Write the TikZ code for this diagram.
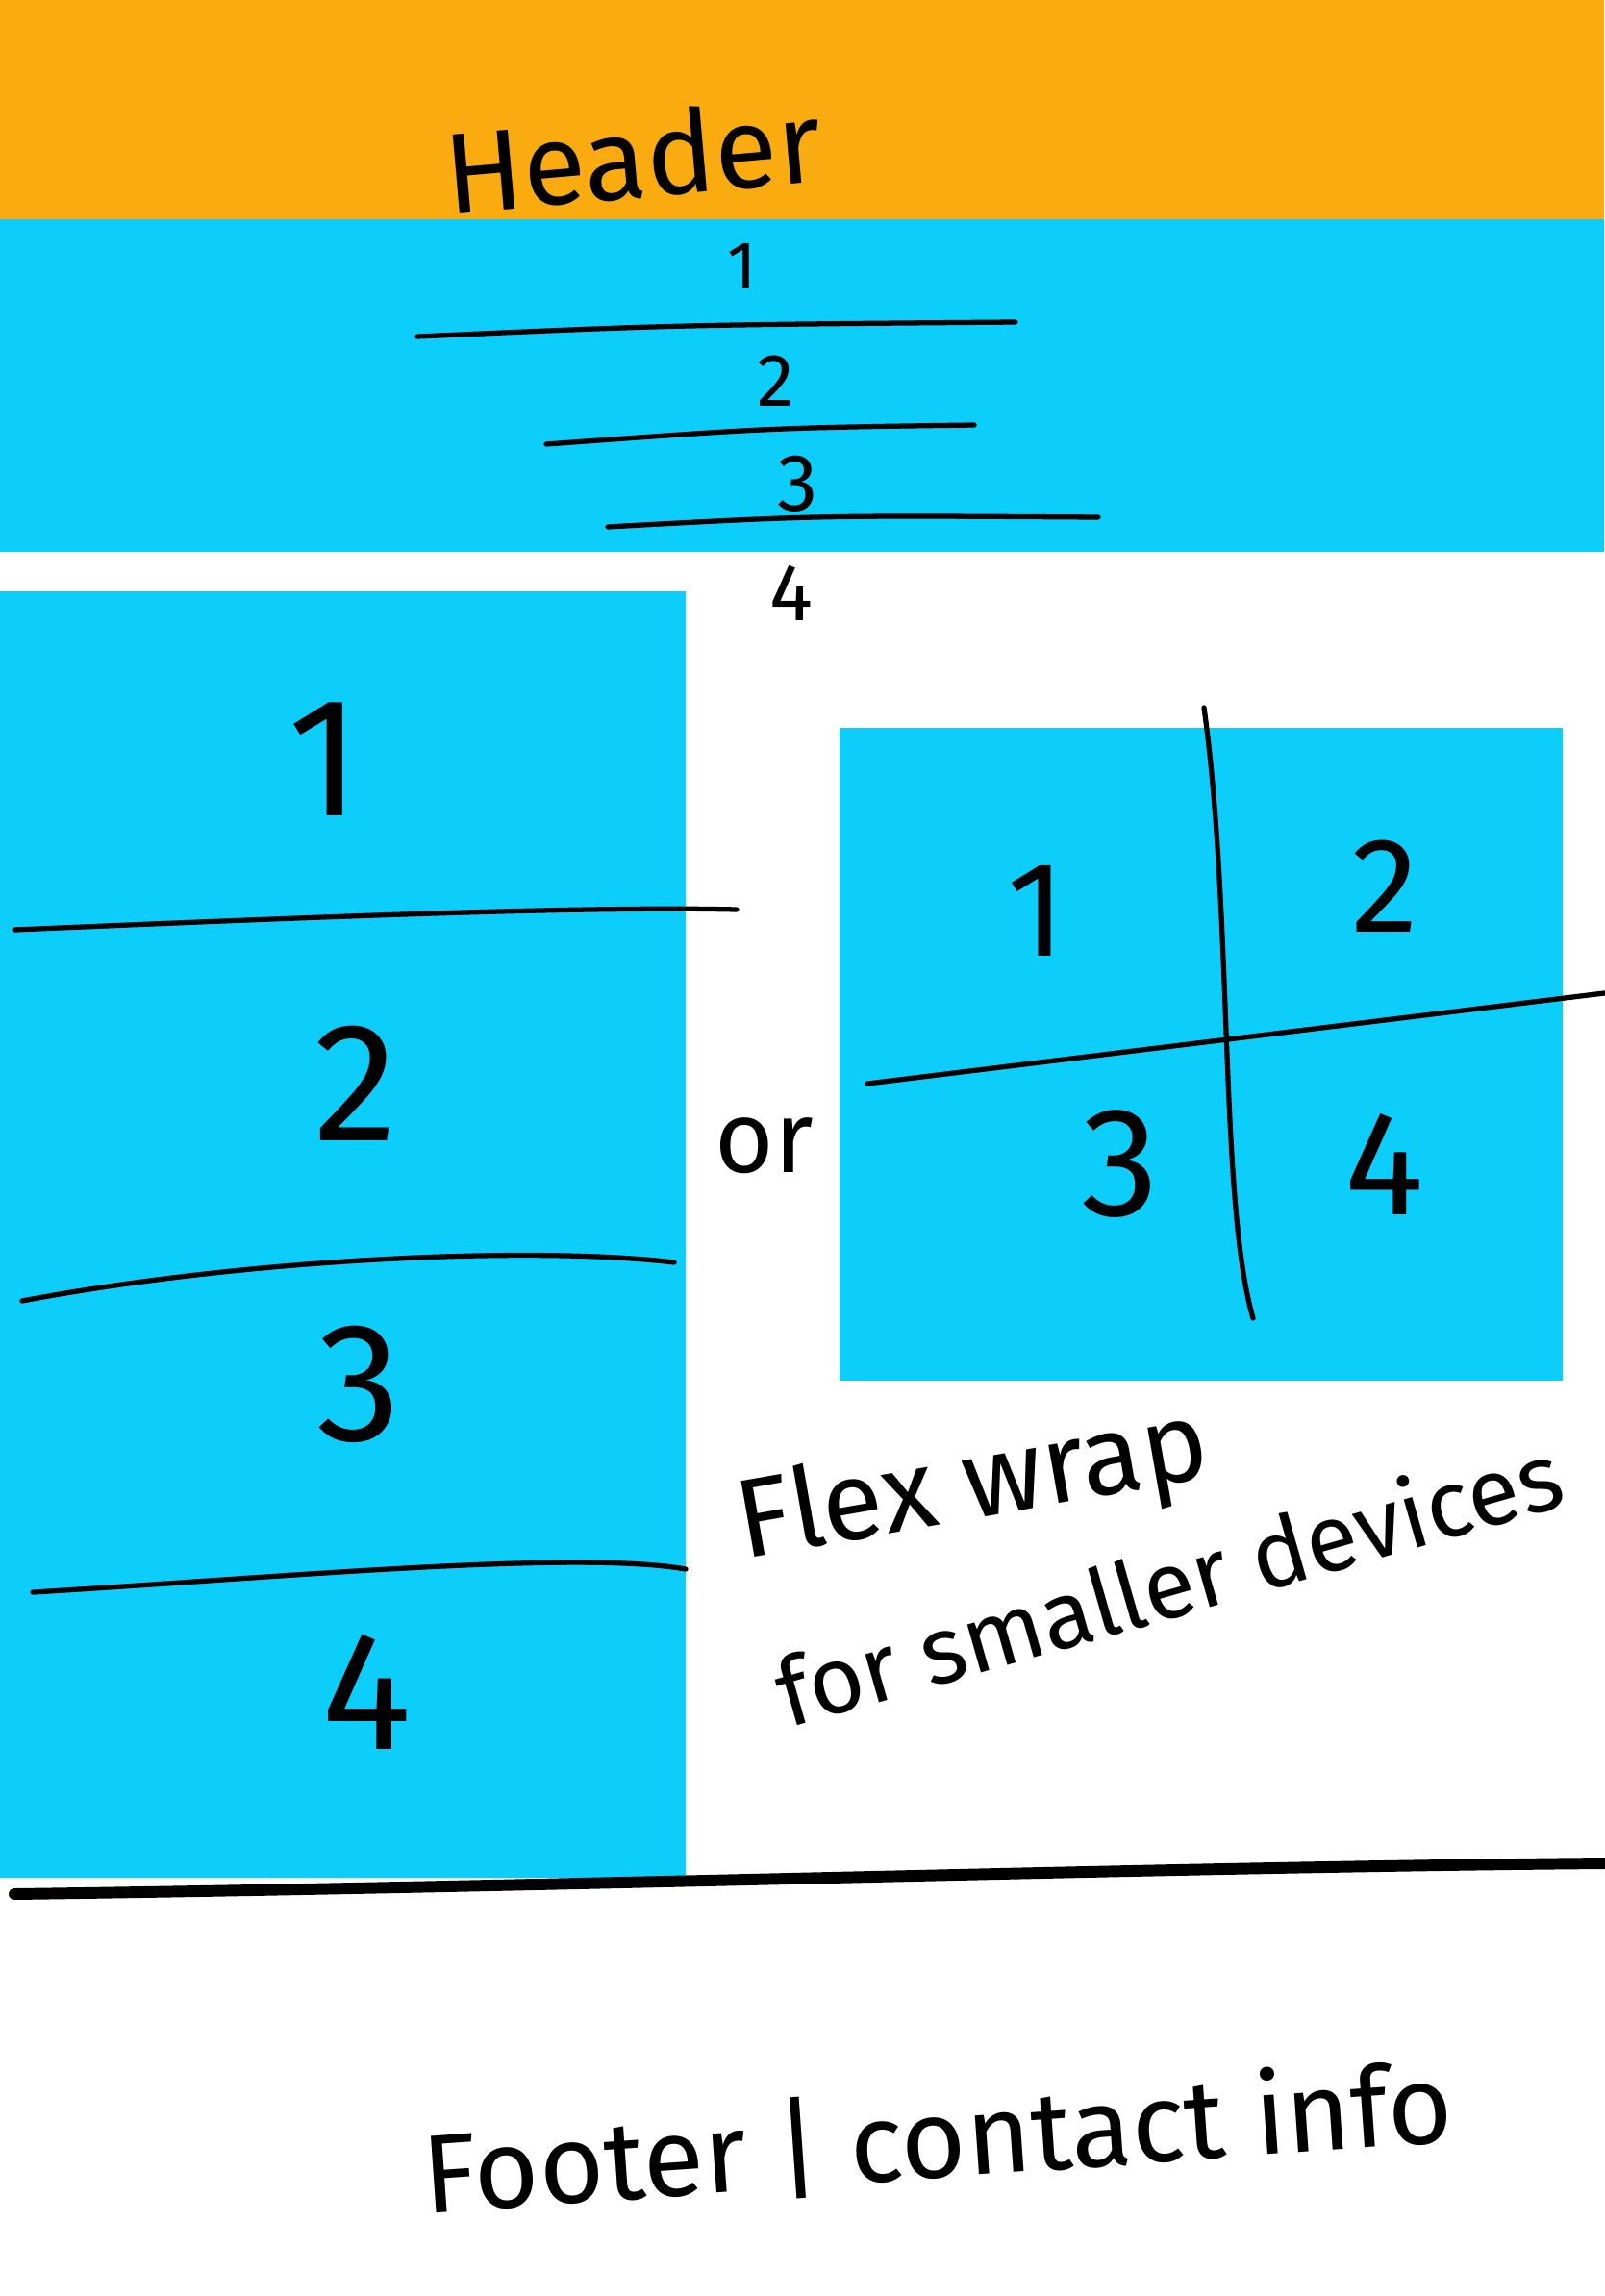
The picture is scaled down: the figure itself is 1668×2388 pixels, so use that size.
\documentclass[tikz,border=0pt]{standalone}
\usepackage{fontspec}
\setmainfont{Fira Sans}
\usepackage{xcolor}
\usepackage{tikz}
\usetikzlibrary{positioning}

\definecolor{headorange}{HTML}{F9AB10}
\definecolor{boxblue}{HTML}{0DCEFA}

\tikzset{
    pen/.style = {line width = 1.5pt, line cap = round},
    bigpen/.style = {line width = 3.4pt, line cap = round},
    hand/.style = {inner sep = 0pt, text = black}
}

\begin{document}
\begin{tikzpicture}[x = 0.01cm, y = -0.01cm]
        \useasboundingbox (0, 0) rectangle (1668, 2388);
        \fill [white] (0, 0) rectangle (1668, 2388);

        % header and nav band
        \fill [headorange] (0, 0) rectangle (1668, 228);
        \fill [boxblue] (0, 228) rectangle (1668, 574);
        \node [hand, rotate = 5, font = \fontsize{34}{36}\selectfont] (header) at (658, 162) {Header};

        \draw [pen] (434, 350) .. controls (700, 338) .. (1056, 335);
        \draw [pen] (568, 462) .. controls (800, 445) .. (1013, 442);
        \draw [pen] (632, 548) .. controls (850, 536) .. (1142, 538);
        \node [hand, font = \fontsize{20}{22}\selectfont] (nav1) at (772, 277) {1};
        \node [hand, font = \fontsize{22}{24}\selectfont] (nav2) at (807, 396) {2};
        \node [hand, font = \fontsize{24}{26}\selectfont] (nav3) at (830, 503) {3};
        \node [hand, font = \fontsize{24}{26}\selectfont] (nav4) at (823, 617) {4};

        % stacked boxes
        \fill [boxblue] (0, 615) rectangle (713, 1953);
        \draw [pen] (15, 967) .. controls (300, 955) and (600, 942) .. (766, 946);
        \draw [pen] (23, 1353) .. controls (250, 1310) and (550, 1295) .. (701, 1313);
        \draw [pen] (34, 1656) .. controls (300, 1640) and (600, 1612) .. (713, 1632);
        \node [hand, font = \fontsize{50}{52}\selectfont] (left1) at (338, 790) {1};
        \node [hand, font = \fontsize{50}{52}\selectfont] (left2) at (370, 1127) {2};
        \node [hand, font = \fontsize{50}{52}\selectfont] (left3) at (373, 1440) {3};
        \node [hand, font = \fontsize{50}{52}\selectfont] (left4) at (381, 1760) {4};

        \node [hand, font = \fontsize{30}{32}\selectfont] (or) at (795, 1192) {or};

        % grid
        \fill [boxblue] (873, 757) rectangle (1625, 1436);
        \draw [pen] (1252, 736) .. controls (1282, 950) and (1268, 1250) .. (1303, 1371);
        \draw [pen] (902, 1127) -- (1668, 1033);
        \node [hand, font = \fontsize{40}{42}\selectfont] (grid1) at (1078, 947) {1};
        \node [hand, font = \fontsize{40}{42}\selectfont] (grid2) at (1440, 922) {2};
        \node [hand, font = \fontsize{46}{48}\selectfont] (grid3) at (1165, 1211) {3};
        \node [hand, font = \fontsize{44}{46}\selectfont] (grid4) at (1440, 1211) {4};

        \node [hand, rotate = 10, font = \fontsize{33}{35}\selectfont] (flex) at (1012, 1548) {Flex wrap};
        \node [hand, rotate = 16, font = \fontsize{28}{30}\selectfont] (devices) at (1215, 1645) {for smaller devices};

        % footer
        \draw [bigpen] (15, 1970) .. controls (600, 1962) and (1200, 1942) .. (1668, 1938);
        \node [hand, rotate = 4, font = \fontsize{33}{35}\selectfont] (footer) at (975, 2224) {Footer | contact info};
\end{tikzpicture}
\end{document}
